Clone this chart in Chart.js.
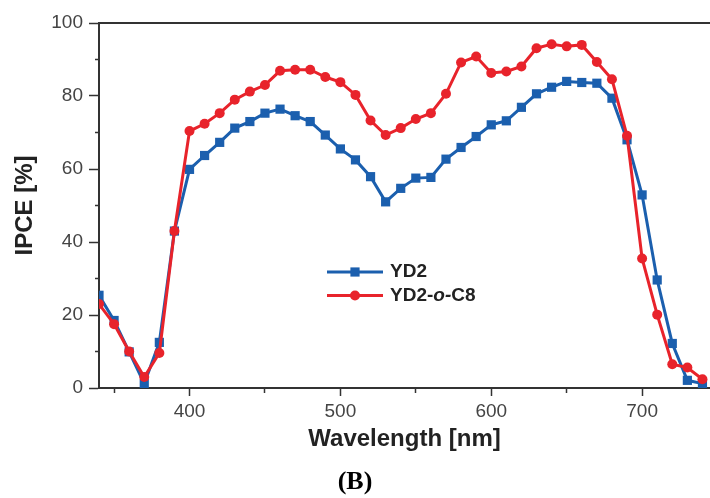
<!DOCTYPE html>
<html>
<head>
<meta charset="utf-8">
<title>IPCE spectra</title>
<script src="https://cdn.jsdelivr.net/npm/chart.js@4.4.0/dist/chart.umd.min.js"></script>
<style>
  body { margin: 0; background: #fff; }
  #wrap { width: 710px; height: 498px; }
</style>
</head>
<body>
<div id="wrap"><canvas id="ipceChart" width="710" height="498"></canvas></div>
<script>
// wavelengths (nm) and IPCE (%)
var wavelengths = [340, 350, 360, 370, 380, 390, 400, 410, 420, 430,
                   440, 450, 460, 470, 480, 490, 500, 510, 520, 530,
                   540, 550, 560, 570, 580, 590, 600, 610, 620, 630,
                   640, 650, 660, 670, 680, 690, 700, 710, 720, 730, 740];
var yd2 = [25.4, 18.5, 9.9, 1.2, 12.5, 43, 59.9, 63.7, 67.3, 71.2,
           73, 75.3, 76.4, 74.6, 73, 69.3, 65.5, 62.5, 57.9, 51,
           54.7, 57.5, 57.7, 62.7, 65.9, 68.9, 72.1, 73.2, 76.9, 80.6,
           82.4, 84, 83.7, 83.5, 79.4, 68, 52.9, 29.6, 12.2, 2.1, 1.2];
var yd2oC8 = [23, 17.5, 10, 3, 9.6, 43, 70.4, 72.4, 75.3, 79,
              81.2, 83, 86.9, 87.2, 87.2, 85.2, 83.8, 80.3, 73.3, 69.3,
              71.2, 73.7, 75.3, 80.6, 89.2, 90.8, 86.3, 86.7, 88.1, 93.1,
              94.2, 93.6, 94, 89.3, 84.6, 69.1, 35.5, 20.1, 6.5, 5.6, 2.4];
var seriesNames = ['YD2', 'YD2-o-C8'];
var xMajor = [400, 500, 600, 700];
var yMajor = [0, 20, 40, 60, 80, 100];

var axisColor = '#333';
var tickFont = { family: 'Liberation Sans, Arial, sans-serif', size: 19 };

function toPoints(values) {
    return wavelengths.map(function (w, i) { return { x: w, y: values[i] }; });
}

// dashes keep only the part of a minor tick next to the axis
// (x ticks start at the axis, y ticks start at the outer end)
function minorDash(majors, dash) {
    return function (ctx) {
        if (ctx.tick && majors.indexOf(ctx.tick.value) < 0) { return dash; }
        return [];
    };
}

// legend with the italic "o" in YD2-o-C8, plus top frame line
var extras = {
    id: 'extras',
    afterDatasetsDraw: function (chart) {
        var ctx = chart.ctx;
        var area = chart.chartArea;
        ctx.save();
        ctx.strokeStyle = axisColor;
        ctx.lineWidth = 2;
        ctx.beginPath();
        ctx.moveTo(area.left, area.top);
        ctx.lineTo(area.right, area.top);
        ctx.stroke();

        var x0 = area.left + 228;
        var y0 = area.top + 249;
        chart.data.datasets.forEach(function (ds, i) {
            var y = y0 + i * 23.5;
            ctx.strokeStyle = ds.borderColor;
            ctx.lineWidth = 3;
            ctx.beginPath();
            ctx.moveTo(x0, y);
            ctx.lineTo(x0 + 56, y);
            ctx.stroke();
            ctx.fillStyle = ds.borderColor;
            Chart.helpers.drawPoint(ctx, { pointStyle: ds.pointStyle, radius: ds.pointRadius, borderWidth: 0 }, x0 + 28, y);

            ctx.fillStyle = '#222';
            ctx.textBaseline = 'middle';
            var tx = x0 + 63;
            var parts = ds.label.split('-');
            parts.forEach(function (p, k) {
                var txt = p + (k < parts.length - 1 ? '-' : '');
                ctx.font = (p === 'o' ? 'italic bold ' : 'bold ') + '19px Liberation Sans, Arial, sans-serif';
                ctx.fillText(txt, tx, y);
                tx += ctx.measureText(txt).width;
            });
        });
        ctx.restore();
    }
};

function makeChart() {
    var ctx = document.getElementById('ipceChart').getContext('2d');
    return new Chart(ctx, {
        type: 'line',
        data: {
            datasets: [{
                label: seriesNames[0],
                data: toPoints(yd2),
                borderColor: '#1b5fae',
                backgroundColor: '#1b5fae',
                borderWidth: 3,
                pointStyle: 'rect',
                pointRadius: 6.5,
                pointBorderWidth: 0,
                tension: 0,
                order: 2
            }, {
                label: seriesNames[1],
                data: toPoints(yd2oC8),
                borderColor: '#e8232b',
                backgroundColor: '#e8232b',
                borderWidth: 3,
                pointStyle: 'circle',
                pointRadius: 5,
                pointBorderWidth: 0,
                tension: 0,
                order: 1
            }]
        },
        options: {
            responsive: false,
            animation: false,
            layout: { autoPadding: false, padding: { top: 23, right: 0, left: 0, bottom: 0 } },
            plugins: {
                legend: { display: false },
                tooltip: { enabled: false },
                title: {
                    display: true,
                    text: '(B)',
                    position: 'bottom',
                    color: '#000',
                    font: { family: 'Liberation Serif, Times New Roman, serif', size: 26, weight: 'bold' },
                    padding: { top: 7, bottom: 0 }
                }
            },
            scales: {
                x: {
                    type: 'linear',
                    min: 340,
                    max: 745,
                    ticks: {
                        stepSize: 50,
                        includeBounds: false,
                        autoSkip: false,
                        maxRotation: 0,
                        color: '#444',
                        font: tickFont,
                        padding: 4,
                        callback: function (v) { return xMajor.indexOf(v) >= 0 ? v : ''; }
                    },
                    grid: {
                        drawOnChartArea: false,
                        tickLength: 8,
                        tickColor: axisColor,
                        tickWidth: 1.5,
                        tickBorderDash: minorDash(xMajor, [4, 60])
                    },
                    border: { color: axisColor, width: 2 },
                    title: {
                        display: true,
                        text: 'Wavelength [nm]',
                        color: '#222',
                        font: { family: 'Liberation Sans, Arial, sans-serif', size: 24, weight: 'bold' },
                        padding: { top: 2, bottom: 6 }
                    },
                    afterFit: function (s) {
                        s.height = 71.8;
                        s.paddingLeft = 0;
                        s.paddingRight = 0;
                    }
                },
                y: {
                    min: 0,
                    max: 100,
                    ticks: {
                        stepSize: 10,
                        color: '#444',
                        font: tickFont,
                        padding: 6,
                        callback: function (v) { return yMajor.indexOf(v) >= 0 ? v : ''; }
                    },
                    grid: {
                        drawOnChartArea: false,
                        tickLength: 10,
                        tickColor: axisColor,
                        tickWidth: 1.5,
                        tickBorderDash: minorDash(yMajor, [0, 6, 4, 60])
                    },
                    border: { color: axisColor, width: 2 },
                    title: {
                        display: true,
                        text: 'IPCE [%]',
                        color: '#222',
                        font: { family: 'Liberation Sans, Arial, sans-serif', size: 24, weight: 'bold' },
                        padding: { top: 11, bottom: 0 }
                    },
                    afterFit: function (s) { s.width = 99; }
                }
            }
        },
        plugins: [extras]
    });
}

makeChart();
</script>
</body>
</html>
